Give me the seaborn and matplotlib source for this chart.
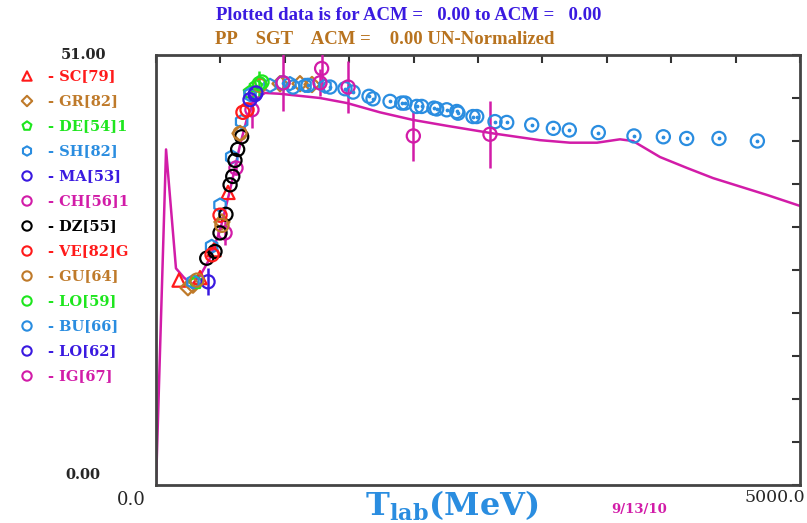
import matplotlib.pyplot as plt
import seaborn as sns
from matplotlib.patches import Rectangle

# SAID-style pp total cross section: T_lab (MeV) vs sigma (mb)
fit_x = [0, 78, 155, 217, 280, 342, 419, 497, 575, 652, 714, 776, 846, 963, 1273,
         1483, 1739, 1995, 2259, 2617, 2981, 3214, 3424, 3602, 3703, 3913, 4123,
         4325, 4744, 5000]
fit_y = [0.0, 39.8, 25.7, 24.6, 23.8, 24.8, 26.9, 30.2, 35.0, 40.3, 43.9, 45.8, 46.5,
         46.4, 45.9, 45.3, 44.2, 43.3, 42.6, 41.7, 40.9, 40.6, 40.6, 41.0, 40.8, 38.9,
         37.6, 36.4, 34.4, 33.1]

sc_x = [179, 342, 450, 559]
sc_y = [24.3, 24.6, 27.9, 34.7]
gr_x = [248, 287, 512, 652, 963, 1118, 1211]
gr_y = [23.4, 23.7, 31.2, 41.7, 47.6, 47.6, 47.5]
de_x = [311, 730, 776]
de_y = [24.0, 46.6, 47.3]
sh_x = [287, 432, 497, 588, 665, 730, 885, 1040, 1157, 1312]
sh_y = [24.1, 28.3, 33.2, 38.9, 43.1, 46.3, 47.4, 47.6, 47.4, 47.3]
ma_x = [404, 769]
ma_y = [24.1, 46.3]
ma_e = [1.6, 0.0]
ch_x = [536, 621, 745]
ch_y = [29.9, 37.6, 44.5]
ch_e = [1.4, 0.8, 2.1]
dz_x = [394, 458, 497, 543, 575, 596, 613, 634, 665]
dz_y = [26.9, 27.7, 29.9, 32.1, 35.6, 36.6, 38.5, 39.8, 41.3]
ve_x = [435, 497, 675, 707]
ve_y = [27.3, 32.0, 44.2, 44.5]
gu_x = [318, 512, 652, 807]
gu_y = [24.3, 30.8, 41.7, 47.4]
lo59_x = [802, 823]
lo59_y = [47.6, 47.8]
lo59_e = [1.5, 0.0]
bu_x = [986, 1064, 1180, 1351, 1467, 1530, 1654, 1685, 1817, 1908, 1933, 2024, 2063,
        2158, 2179, 2257, 2335, 2345, 2461, 2490, 2632, 2723, 2917, 3085, 3209, 3434,
        3711, 3939, 4120, 4371, 4669]
bu_y = [47.7, 47.2, 47.4, 47.2, 47.0, 46.6, 46.1, 45.8, 45.5, 45.3, 45.3, 44.9, 44.9,
        44.7, 44.6, 44.5, 44.3, 44.1, 43.7, 43.7, 43.1, 43.0, 42.7, 42.3, 42.1, 41.8,
        41.4, 41.3, 41.1, 41.1, 40.8]
lo62_x = [730, 776]
lo62_y = [45.7, 46.5]
ig_x = [986, 1286, 1273, 1491, 1998, 2593]
ig_y = [47.7, 49.4, 47.7, 47.2, 41.4, 41.6]
ig_e = [3.4, 2.5, 1.6, 3.1, 3.0, 4.0]

RED = "#ff1a1a"
BROWN = "#bf7a2a"
GREEN = "#1ee61e"
BLUE = "#2a8de0"
VIOLET = "#3a1ae0"
MAGENTA = "#d21ca8"

series = [
    ("SC[79]", sc_x, sc_y, None, RED, "^"),
    ("GR[82]", gr_x, gr_y, None, BROWN, "D"),
    ("DE[54]1", de_x, de_y, None, GREEN, "p"),
    ("SH[82]", sh_x, sh_y, None, BLUE, "h"),
    ("MA[53]", ma_x, ma_y, ma_e, VIOLET, "o"),
    ("CH[56]1", ch_x, ch_y, ch_e, MAGENTA, "o"),
    ("DZ[55]", dz_x, dz_y, None, "black", "o"),
    ("VE[82]G", ve_x, ve_y, None, RED, "o"),
    ("GU[64]", gu_x, gu_y, None, BROWN, "o"),
    ("LO[59]", lo59_x, lo59_y, lo59_e, GREEN, "o"),
    ("BU[66]", bu_x, bu_y, None, BLUE, "o"),
    ("LO[62]", lo62_x, lo62_y, None, VIOLET, "o"),
    ("IG[67]", ig_x, ig_y, ig_e, MAGENTA, "o"),
]

sns.set_style("white")
plt.rcParams['font.family'] = ['DejaVu Serif']
plt.rcParams['mathtext.fontset'] = 'dejavuserif'

W, H = 807, 523
fig = plt.figure(figsize=(W / 100, H / 100), dpi=100)
ax = fig.add_axes([156 / W, (H - 485) / H, 644 / W, 430 / H])

sns.lineplot(x=fit_x, y=fit_y, ax=ax, color=MAGENTA, lw=1.8, sort=False, zorder=2)

for name, xs, ys, es, col, mk in series:
    if es is not None:
        ax.vlines(xs, [y - e for y, e in zip(ys, es)], [y + e for y, e in zip(ys, es)],
                  color=col, lw=1.8, zorder=3)
    size = 60 if mk == "D" else 90
    sns.scatterplot(x=xs, y=ys, ax=ax, marker=mk, s=size, facecolor="none",
                    edgecolor=col, linewidth=1.6, zorder=4)
    if name == "BU[66]":
        ax.scatter(xs, ys, s=3, color=col, zorder=5)

ax.set_xlim(0, 5000)
ax.set_ylim(0, 51)
ax.set_xticks([i * 500 for i in range(11)])
ax.set_yticks([i * 5.1 for i in range(11)])
ax.tick_params(direction="in", length=6, width=1.5, color="#333333",
               top=True, right=True, labelbottom=False, labelleft=False)
for sp in ax.spines.values():
    sp.set_color("#444444")
    sp.set_linewidth(2)

# overlay in pixel coordinates for the annotations
ov = fig.add_axes([0, 0, 1, 1], zorder=-1)
ov.set_xlim(0, W)
ov.set_ylim(H, 0)
ov.axis("off")

for i, (name, xs, ys, es, col, mk) in enumerate(series):
    yy = 76 + i * 25
    ov.scatter([27], [yy], marker=mk, s=28 if mk == "D" else 45, facecolor="none",
               edgecolor=col, linewidth=1.5)
    ov.text(48, yy, "- " + name, color=col, fontsize=10.5, fontweight="bold",
            va="center", ha="left")

ov.text(409, 16, "Plotted data is for ACM =   0.00 to ACM =   0.00", color="#3a1ae0",
        fontsize=13.5, fontweight="bold", ha="center", va="center",
        family="Liberation Serif")
ov.text(215, 39, "PP    SGT    ACM =    0.00 UN-Normalized", color="#b8731f",
        fontsize=13.5, fontweight="bold", ha="left", va="center",
        family="Liberation Serif")
ov.text(83, 55, "51.00", fontsize=10.5, fontweight="bold", ha="center", va="center")
ov.text(83, 475, "0.00", fontsize=10.5, fontweight="bold", ha="center", va="center")
ov.text(131, 500, "0.0", fontsize=13, ha="center", va="center")
ov.text(775, 498, "5000.0", fontsize=12.5, ha="center", va="center")
ov.text(452, 516, r"$\mathbf{T_{lab}(MeV)}$", color="#2a8de0", fontsize=23,
        ha="center", va="baseline")
ov.text(639, 510, "9/13/10", color=MAGENTA, fontsize=9.5, fontweight="bold",
        ha="center", va="center")

ov.add_patch(Rectangle((651, 376), 106, 87, fill=False, edgecolor="#0d3d6e", lw=2.2))
ov.text(704, 420, "p p", color="#0d3d6e", fontsize=34, ha="center", va="center",
        family="Liberation Serif")

fig.savefig("out.png", dpi=100)
